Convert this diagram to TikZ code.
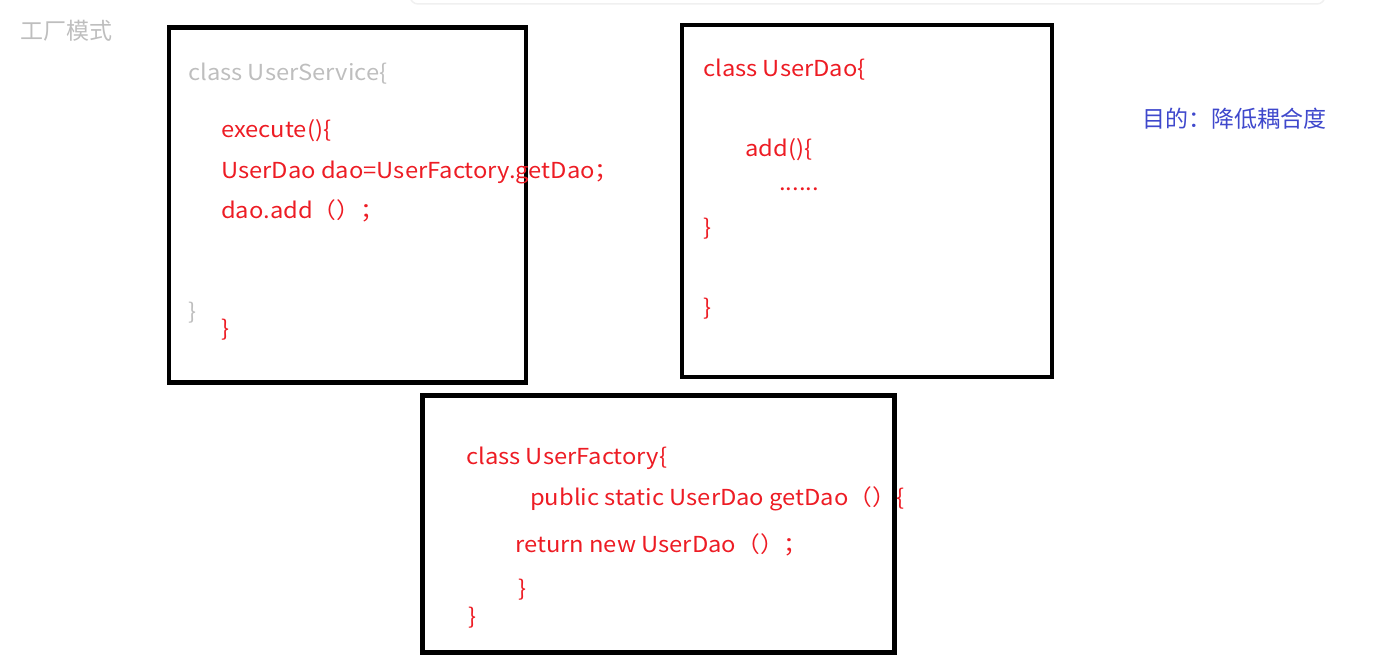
\documentclass[tikz,border=0pt]{standalone}
\usepackage{fontspec}
\setmainfont{Noto Sans CJK SC}
\newfontfamily\codefont[FakeStretch=1.08]{Noto Sans CJK SC}
\usetikzlibrary{calc}

\definecolor{codered}{RGB}{237,28,36}
\definecolor{codegray}{RGB}{190,190,190}
\definecolor{aimblue}{RGB}{63,72,204}

\tikzset{
	code/.style={anchor=base west, inner sep=0pt, text=codered, font=\codefont\fontsize{22}{26}\selectfont},
	faded/.style={code, text=codegray},
	label/.style={anchor=base west, inner sep=0pt, font=\fontsize{23}{27}\selectfont},
	box/.style={draw=black, line width=4.5pt}
}

\begin{document}
\begin{tikzpicture}[x=1pt,y=-1pt]
\useasboundingbox (0,0) rectangle (1383,661);

% card edge at the top
\draw[black!6, line width=1.5pt, rounded corners=8pt] (410,-30) rectangle (1325,4);

\foreach \a/\b/\c/\d in {169/27.5/526/382.5, 682/25/1052/377, 422.5/395.5/894.5/652.5}  {
	\draw[box] (\a,\b) rectangle (\c,\d);
}

\node[label, text=codegray] (title) at (20,40) {工厂模式};

% UserService
\node[faded] (svc) at (188,80) {class UserService\{};
\node[code] (exec) at (221,137) {execute()\{};
\node[code] (get) at (221,178) {UserDao dao=UserFactory.getDao；};
\node[code] (call) at (221,218) {dao.add（）；};
\node[faded] (svcend) at (188,319) {\}};
\node[code] (execend) at (221,336) {\}};

% UserDao
\node[code] (dao) at (703,76) {class UserDao\{};
\node[code] (add) at (745,156) {add()\{};
\node[code] (dots) at (779,190) {......};
\node[code] (addend) at (703,235) {\}};
\node[code] (daoend) at (703,315) {\}};

\node[label, text=aimblue] (goal) at (1142,127) {目的：降低耦合度};

% UserFactory
\node[code] (fac) at (466,464) {class UserFactory\{};
\node[code] (getdao) at (530,505) {public static UserDao getDao（）\{};
\node[code] (ret) at (515,552) {return new UserDao（）；};
\node[code] (getend) at (518,596) {\}};
\node[code] (facend) at (468,624) {\}};

\end{tikzpicture}
\end{document}
